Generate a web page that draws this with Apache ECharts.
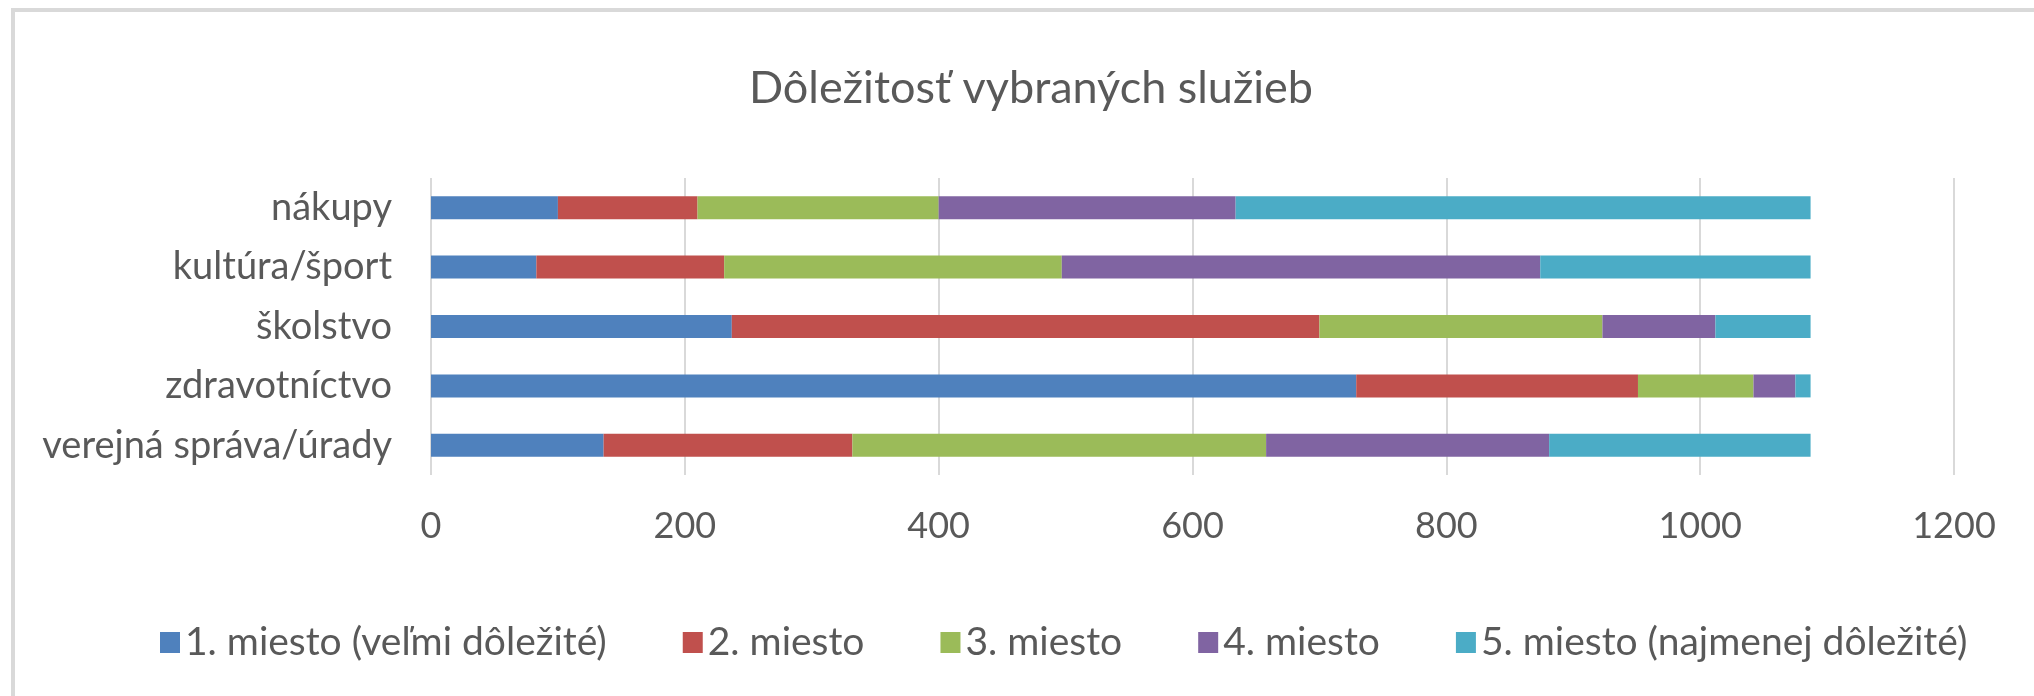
<!DOCTYPE html>
<html>
<head>
<meta charset="utf-8">
<script src="https://cdn.jsdelivr.net/npm/echarts@6/dist/echarts.min.js"></script>
<style>
  html, body { margin: 0; padding: 0; background: #fff; }
  #chart { width: 2034px; height: 696px; }
</style>
</head>
<body>
<div id="chart"></div>
<script>
// categories from top to bottom
const categories = ['nákupy', 'kultúra/šport', 'školstvo', 'zdravotníctvo', 'verejná správa/úrady'];
const seriesNames = ['1. miesto (veľmi dôležité)', '2. miesto', '3. miesto', '4. miesto', '5. miesto (najmenej dôležité)'];
const place1 = [100, 83, 237, 729, 136];
const place2 = [110, 148, 463, 222, 196];
const place3 = [190, 266, 223, 91, 326];
const place4 = [234, 377, 89, 33, 223];
const place5 = [453, 213, 75, 12, 206];
const xTicks = [0, 200, 400, 600, 800, 1000, 1200];

const colors = ['#4F81BD', '#C0504D', '#9BBB59', '#8064A2', '#4BACC6'];
const font = 'Lato';
const textColor = '#595959';

const chart = echarts.init(document.getElementById('chart'));
const values = [place1, place2, place3, place4, place5];

chart.setOption({
  animation: false,
  color: colors,
  title: {
    text: 'Dôležitosť vybraných služieb',
    left: 1031,
    top: 66,
    padding: 0,
    textAlign: 'center',
    textStyle: { fontFamily: font, fontSize: 45, fontWeight: 'normal', color: textColor }
  },
  legend: {
    data: seriesNames,
    left: 160,
    top: 623,
    padding: 0,
    itemWidth: 20,
    itemHeight: 21,
    itemGap: 76,
    icon: 'rect',
    textStyle: { fontFamily: font, fontSize: 39, color: textColor }
  },
  grid: { left: 431, right: 80, top: 178, bottom: 221, containLabel: false },
  xAxis: {
    type: 'value',
    min: xTicks[0],
    max: xTicks[xTicks.length - 1],
    interval: 200,
    axisLine: { show: false },
    axisTick: { show: false },
    splitLine: { lineStyle: { color: '#D9D9D9', width: 2 } },
    axisLabel: {
      margin: 33, fontFamily: font, fontSize: 36, color: textColor,
      formatter: (v) => String(v)
    }
  },
  yAxis: {
    type: 'category',
    data: categories,
    inverse: true,
    axisLine: { show: false },
    axisTick: { show: false },
    axisLabel: { margin: 39, fontFamily: font, fontSize: 38, color: textColor }
  },
  graphic: [{
    type: 'rect',
    shape: { x: 13, y: 10, width: 2100, height: 800 },
    style: { fill: 'none', stroke: '#D9D9D9', lineWidth: 4 },
    silent: true
  }],
  series: seriesNames.map((name, i) => ({
    name: name,
    type: 'bar',
    stack: 'total',
    barWidth: 23,
    data: values[i]
  }))
});
</script>
</body>
</html>
